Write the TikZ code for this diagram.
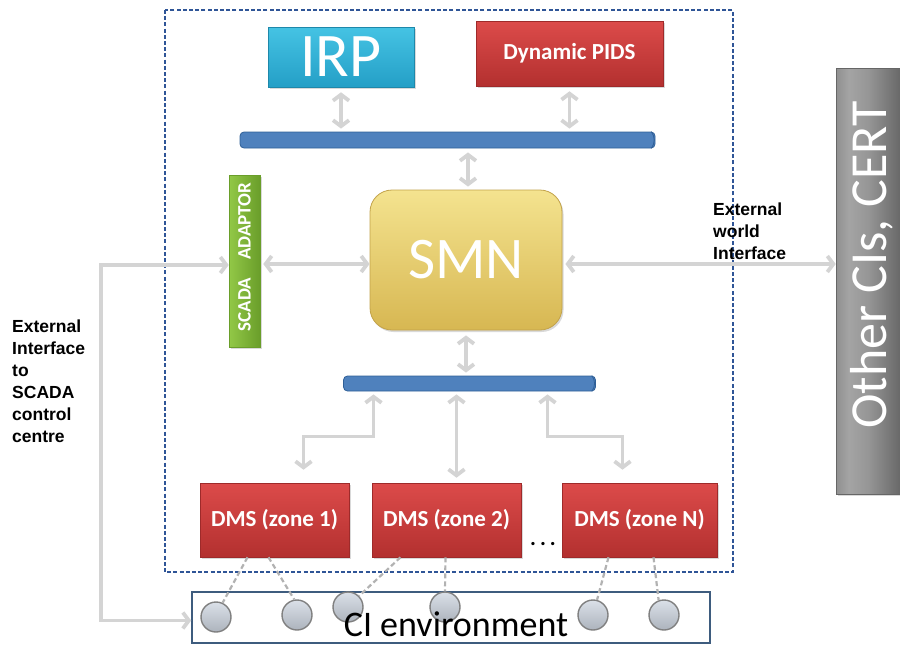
\documentclass[tikz,border=0pt]{standalone}
\usepackage{fontspec}
\setmainfont{Carlito}
\newfontfamily\arialfont{Liberation Sans}
\usetikzlibrary{arrows.meta,shadows,calc}

\definecolor{frameblue}{HTML}{2F5597}
\definecolor{redT}{HTML}{DC4B4A}
\definecolor{redB}{HTML}{B3302F}
\definecolor{redD}{HTML}{9E2A2A}
\definecolor{cyanT}{HTML}{45C3E4}
\definecolor{cyanB}{HTML}{249FC6}
\definecolor{cyanD}{HTML}{1E88AA}
\definecolor{greenL}{HTML}{92C847}
\definecolor{greenR}{HTML}{6A9E2A}
\definecolor{goldT}{HTML}{F4E38F}
\definecolor{goldB}{HTML}{D7B752}
\definecolor{goldD}{HTML}{C2A24A}
\definecolor{busfill}{HTML}{4F81BD}
\definecolor{busdraw}{HTML}{2F5F97}
\definecolor{connc}{HTML}{D4D4D4}
\definecolor{envdraw}{HTML}{3E5C7E}
\definecolor{dotfill}{HTML}{CBD3DE}
\definecolor{greyEdge}{HTML}{5E5E5E}
\definecolor{greyMid}{HTML}{A4A4A4}

% side-lit grey bar: dark edges, light band left of centre
\pgfdeclarehorizontalshading{greybar}{100bp}{
  color(0bp)=(greyEdge); color(35bp)=(greyMid); color(50bp)=(greyMid!80!greyEdge);
  color(75bp)=(greyEdge!85!greyMid); color(100bp)=(greyEdge)}

\begin{document}
\begin{tikzpicture}[x=1pt,y=-1pt,
  shadowed/.style={drop shadow={opacity=.3,shadow xshift=1.5pt,shadow yshift=-2pt}},
  redbox/.style={shadowed,draw=redD,line width=.6pt,top color=redT,bottom color=redB,
    inner sep=0pt,text=white,font=\bfseries\fontsize{23}{26}\selectfont},
  busbar/.style={draw=busdraw,fill=busfill,line width=.8pt,rounded corners=4pt,inner sep=0pt},
  conn/.style={draw=connc,line width=3.8pt},
  dbl/.style={conn,arrows={Straight Barb[length=6pt,width=16pt]-Straight Barb[length=6pt,width=16pt]}},
  dashline/.style={draw=black!30,line width=2.2pt,dash pattern=on 5pt off 3pt},
  cidot/.style={circle,draw=black!50,line width=1.4pt,top color=dotfill!70!white,bottom color=dotfill!85!black,
    minimum size=30pt,inner sep=0pt},
  note/.style={font=\arialfont\bfseries\fontsize{17.5}{22}\selectfont,align=left,inner sep=0pt}]

\useasboundingbox (0,0) rectangle (900,646);

% system boundary
\draw[frameblue,line width=1.1pt,dash pattern=on 4pt off 2.2pt] (165,10) rectangle (733,572);

% top row
\node[shadowed,draw=cyanD,line width=.6pt,top color=cyanT,bottom color=cyanB,inner sep=0pt,
  minimum width=146pt,minimum height=60pt,text=white,font=\fontsize{62}{62}\selectfont] (irp) at (341,57) {IRP};
\node[redbox,minimum width=187pt,minimum height=65pt] (pids) at (569.5,53.5) {Dynamic PIDS};

% upper bus
\node[busbar,minimum width=415pt,minimum height=16pt] (bus1) at (447.5,140) {};
\draw[busdraw,line width=.8pt] ([xshift=-4pt]bus1.north east) to[bend left=35] ([xshift=-4pt]bus1.south east);

% SCADA adaptor
\node[shadowed,draw=greenR,line width=.6pt,left color=greenL,right color=greenR,inner sep=0pt,
  minimum width=31pt,minimum height=172pt] (adaptor) at (244.5,261) {};
\node[rotate=90,text=white,font=\bfseries\fontsize{19}{19}\selectfont,inner sep=0pt] (adaptortxt)
  at ([yshift=4pt]adaptor.center) {SCADA\hspace{18pt}ADAPTOR};

% SMN
\node[shadowed,draw=goldD,line width=.8pt,top color=goldT,bottom color=goldB,rounded corners=22pt,inner sep=0pt,
  minimum width=192pt,minimum height=140pt,text=white,font=\fontsize{59}{59}\selectfont] (smn) at (466,260) {SMN};

% other infrastructures
\node[shadowed,draw=black!60,line width=.6pt,shading=greybar,inner sep=0pt,
  minimum width=64pt,minimum height=426pt] (other) at (868,281) {};
\node[rotate=90,text=white,font=\fontsize{52}{52}\selectfont,inner sep=0pt] (othertxt)
  at ([xshift=4pt,yshift=16pt]other.center) {Other CIs, CERT};

% lower bus
\node[busbar,minimum width=252pt,minimum height=15pt] (bus2) at (469.5,383.5) {};
\draw[busdraw,line width=.8pt] ([xshift=-4pt]bus2.north east) to[bend left=35] ([xshift=-4pt]bus2.south east);

% DMS zones
\node[redbox,minimum width=149pt,minimum height=74pt] (d1) at (274.5,520) {DMS (zone 1)};
\node[redbox,minimum width=149pt,minimum height=74pt] (d2) at (446.5,520) {DMS (zone 2)};
\node[redbox,minimum width=155pt,minimum height=74pt] (dN) at (639.5,520) {DMS (zone N)};
\node[font=\bfseries\fontsize{22}{22}\selectfont,inner sep=0pt] (dots) at (543,544) {.\hspace{4pt}.\hspace{4pt}.};

% CI environment
\node[draw=envdraw,line width=1.6pt,fill=white,inner sep=0pt,minimum width=518pt,minimum height=51pt] (env) at (451,617.5) {};
\node[cidot] (c1) at (216,617) {};
\node[cidot] (c2) at (297,615) {};
\node[cidot] (c3) at (348,607) {};
\node[cidot] (c4) at (445,607) {};
\node[cidot] (c5) at (593,615) {};
\node[cidot] (c6) at (664,615) {};
\node[font=\fontsize{36}{36}\selectfont,inner sep=0pt] (envtxt) at (456,624) {CI environment};

% sensor links
\draw[dashline] ([xshift=-27pt]d1.south) -- (c1.65);
\draw[dashline] ([xshift=-6pt]d1.south) -- (c2.100);
\draw[dashline] ([xshift=-46pt]d2.south) -- (c3.45);
\draw[dashline] ([xshift=-1pt]d2.south) -- (c4.north);
\draw[dashline] ([xshift=-31pt]dN.south) -- (c5.75);
\draw[dashline] ([xshift=14pt]dN.south) -- (c6.110);

% connectors
\draw[dbl] ([yshift=-5pt]irp.south) -- ([yshift=3pt]irp.south |- bus1.north);
\draw[dbl] ([yshift=-5pt]pids.south) -- ([yshift=3pt]pids.south |- bus1.north);
\draw[dbl] ([xshift=2pt,yshift=-4pt]bus1.south -| smn.north) -- ([xshift=2pt,yshift=3pt]smn.north);
\draw[dbl] ([yshift=-5pt]smn.south) -- ([yshift=3pt]smn.south |- bus2.north);
\draw[dbl] ([xshift=3pt,yshift=-3pt]adaptor.east) -- ([yshift=-3pt]adaptor.east -| smn.west);
\draw[dbl] ([xshift=3pt,yshift=-4pt]smn.east) -- ([yshift=-4pt]smn.east -| other.west);
\draw[dbl] ([yshift=-4pt]adaptor.west) -- ++(-128,0) |- ([yshift=-3pt]env.west);

\coordinate (tap1) at ([xshift=-96pt,yshift=-3pt]bus2.south);
\coordinate (tap2) at ([xshift=-13pt,yshift=-3pt]bus2.south);
\coordinate (tap3) at ([xshift=78pt,yshift=-3pt]bus2.south);
\draw[dbl] (tap1) -- ++(0,42) -| ([xshift=29pt,yshift=13pt]d1.north);
\draw[dbl] (tap2) -- ([xshift=10pt,yshift=5pt]d2.north);
\draw[dbl] (tap3) -- ++(0,42) -| ([xshift=-17pt,yshift=13pt]dN.north);

% annotations
\node[note,anchor=north west] (extworld) at (713,203) {External\\world\\Interface};
\node[note,anchor=north west] (extscada) at (12,320) {External\\Interface\\to\\SCADA\\control\\centre};

\end{tikzpicture}
\end{document}
